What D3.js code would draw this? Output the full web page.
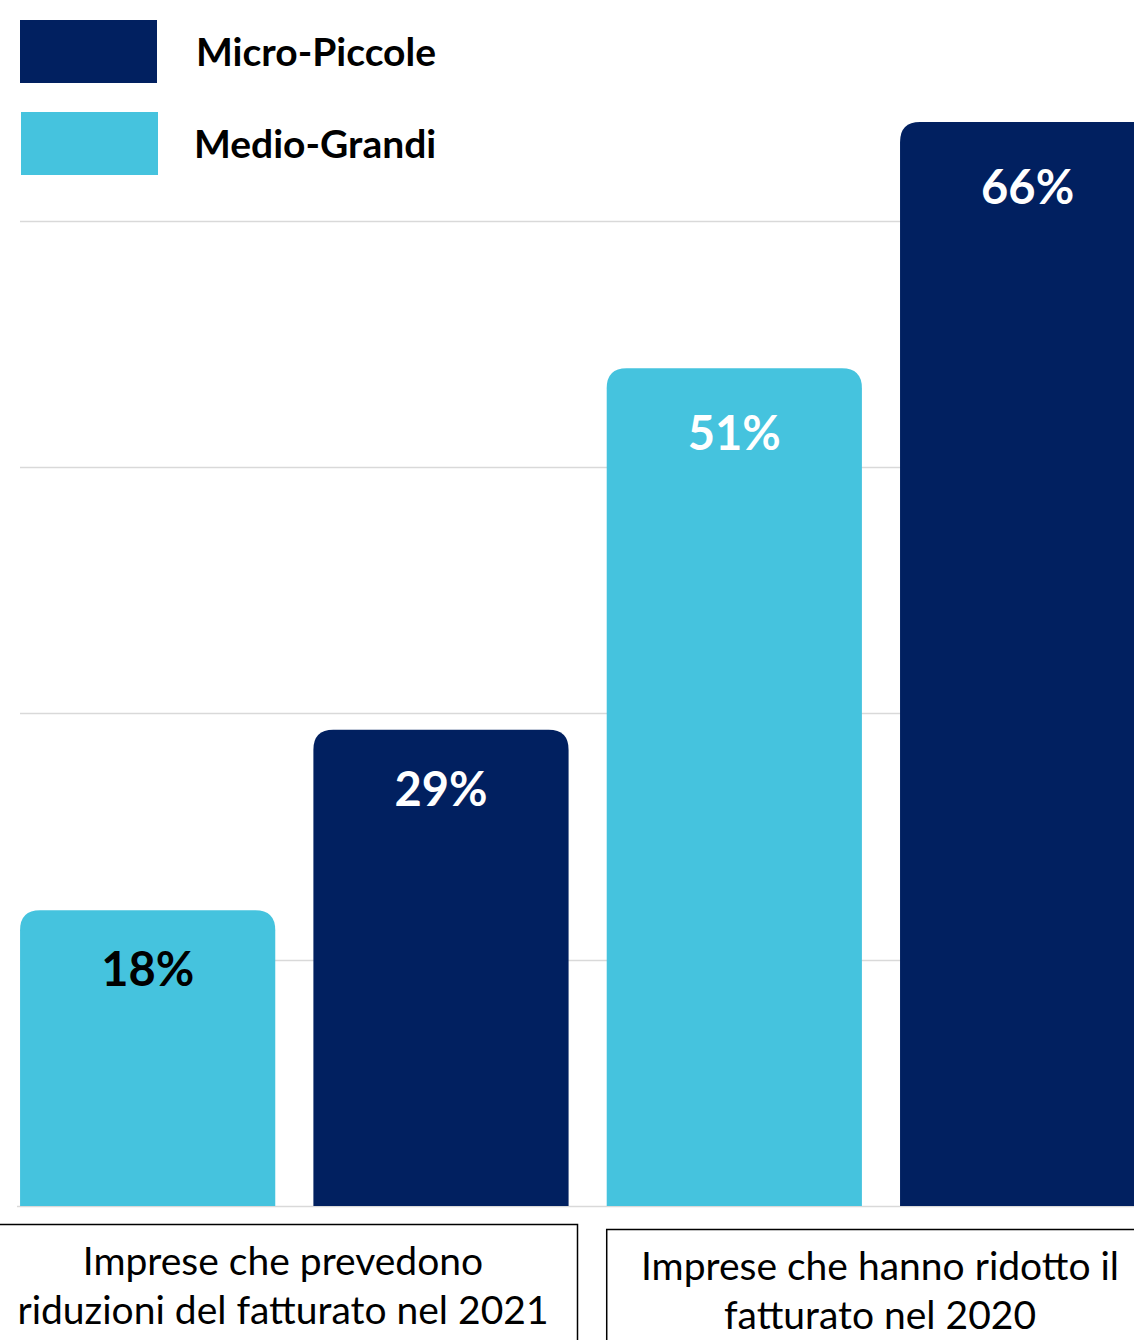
<!DOCTYPE html>
<html>
<head>
<meta charset="utf-8">
<script src="https://cdn.jsdelivr.net/npm/d3@7"></script>
<style>
  html, body { margin: 0; padding: 0; background: #fff; }
  svg { display: block; }
</style>
</head>
<body>
<svg id="chart" width="1134" height="1340"></svg>
<script>
// ---- data ----
const groups = [
  ["Imprese che prevedono", "riduzioni del fatturato nel 2021"],
  ["Imprese che hanno ridotto il", "fatturato nel 2020"]
];
const seriesNames = ["Medio-Grandi", "Micro-Piccole"];
const valuesMedioGrandi = [18, 51];
const valuesMicroPiccole = [29, 66];
const gridTicks = [15, 30, 45, 60];
const legendOrder = ["Micro-Piccole", "Medio-Grandi"];

// ---- styling ----
const colors = { "Medio-Grandi": "#45c3de", "Micro-Piccole": "#012060" };
const labelColors = { "Medio-Grandi": ["#000", "#fff"], "Micro-Piccole": ["#fff", "#fff"] };
const W = 1134, H = 1340;
const baseY = 1206, topY = 122;

const svg = d3.select("#chart");

const groupIds = groups.map((g, i) => i);
const x0 = d3.scaleBand().domain(groupIds).range([1, 1174.3]).padding(0);
const x1 = d3.scaleBand().domain(seriesNames).range([0, x0.bandwidth()])
  .paddingInner(0.13).paddingOuter(0.065);
const y = d3.scaleLinear().domain([0, 66]).range([baseY, topY]);

// gridlines
svg.append("g").selectAll("line").data(gridTicks).join("line")
  .attr("x1", 20).attr("x2", W)
  .attr("y1", d => Math.round(y(d)) + 0.5).attr("y2", d => Math.round(y(d)) + 0.5)
  .attr("stroke", "#d9d9d9").attr("stroke-width", 1.3);
svg.append("line").attr("x1", 17).attr("x2", W)
  .attr("y1", baseY + 0.5).attr("y2", baseY + 0.5)
  .attr("stroke", "#d9d9d9").attr("stroke-width", 1.5);

// bars
const rows = [];
groupIds.forEach(g => {
  rows.push({ g, s: "Medio-Grandi", v: valuesMedioGrandi[g] });
  rows.push({ g, s: "Micro-Piccole", v: valuesMicroPiccole[g] });
});
function topRounded(x, yTop, w, h, r) {
  return `M${x},${yTop + h}V${yTop + r}Q${x},${yTop} ${x + r},${yTop}H${x + w - r}Q${x + w},${yTop} ${x + w},${yTop + r}V${yTop + h}Z`;
}
const bars = svg.append("g");
bars.selectAll("path").data(rows).join("path")
  .attr("d", d => {
    const bx = x0(d.g) + x1(d.s);
    const yt = y(d.v);
    return topRounded(bx, yt, x1.bandwidth(), baseY - yt, 20);
  })
  .attr("fill", d => colors[d.s]);

bars.selectAll("text").data(rows).join("text")
  .attr("x", d => x0(d.g) + x1(d.s) + x1.bandwidth() / 2)
  .attr("y", d => y(d.v) + 76 + (d.v > 40 ? 6 : 0))
  .attr("text-anchor", "middle")
  .attr("font-family", "Lato, 'Open Sans', sans-serif")
  .attr("font-weight", 700)
  .attr("font-size", 47)
  .attr("fill", d => labelColors[d.s][d.g])
  .text(d => d.v + "%");

// legend
const leg = svg.append("g");
legendOrder.forEach((name, i) => {
  leg.append("rect").attr("x", 20 + i).attr("y", 20 + i * 92)
    .attr("width", 137).attr("height", 63).attr("fill", colors[name]);
  leg.append("text").attr("x", 196 - i * 2).attr("y", 52 + i * 92)
    .attr("dy", "0.35em")
    .attr("font-family", "Lato, 'Open Sans', sans-serif")
    .attr("font-weight", 700).attr("font-size", 39)
    .attr("fill", "#000").text(name);
});

// category boxes
const cat = svg.append("g");
groupIds.forEach(g => {
  const start = x0(g) + x1(seriesNames[0]);
  const bx = g === 0 ? -10 : start;
  const bw = g === 0 ? 587.5 : 560;
  const by = g === 0 ? 1224.5 : 1229.5;
  cat.append("rect").attr("x", bx).attr("y", by).attr("width", bw).attr("height", 140)
    .attr("fill", "#fff").attr("stroke", "#000").attr("stroke-width", 1.5);
  const tcx = g === 0 ? 283 : 880;
  groups[g].forEach((line, k) => {
    cat.append("text").attr("x", tcx).attr("y", by + 50 + k * 49)
      .attr("text-anchor", "middle")
      .attr("font-family", "Lato, 'Open Sans', sans-serif")
      .attr("font-size", 39).attr("fill", "#000").text(line);
  });
});
</script>
</body>
</html>
